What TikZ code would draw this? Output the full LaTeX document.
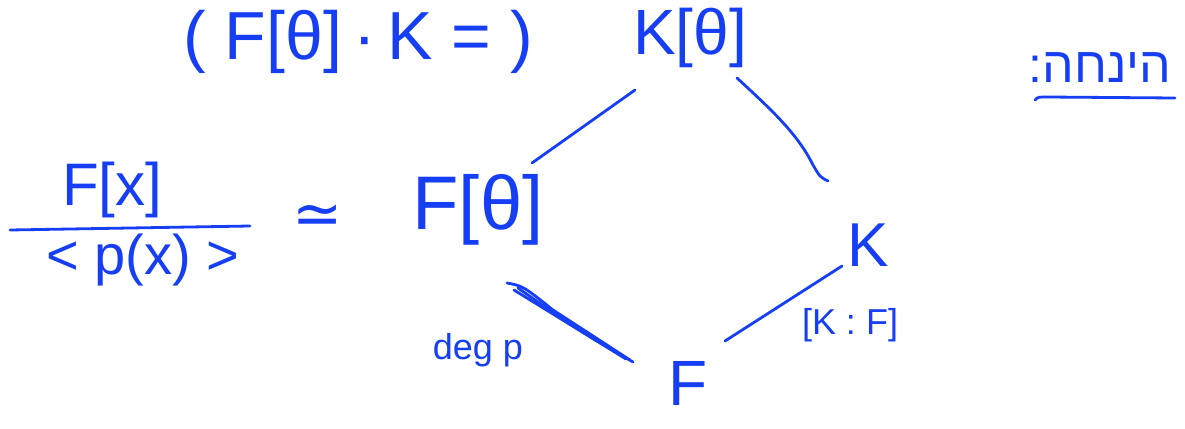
\documentclass[tikz,border=0pt]{standalone}
\usepackage{fontspec}
\setmainfont{Liberation Sans}
\newfontfamily\hebfont[Script=Hebrew]{Liberation Sans}
\newfontfamily\symfont{DejaVu Sans}
\TeXXeTstate=1
\definecolor{handblue}{RGB}{22,62,245}
\begin{document}
\begin{tikzpicture}[x=1pt,y=-1pt,
  hand/.style={text=handblue,inner sep=0pt},
  stroke/.style={draw=handblue,line width=2.8pt,line cap=round,line join=round}]
\useasboundingbox[fill=white] (0,0) rectangle (1185,428);
% nodes
\node[hand,font=\fontsize{68}{72}\selectfont] (top) at (358,42) {( F[θ]\,·\,K = )};
\node[hand,font=\fontsize{64}{68}\selectfont] (kt) at (690,38) {K[θ]};
\node[hand,font=\fontsize{50}{54}\selectfont\hebfont] (heb) at (1100,68) {\beginR הינחה:\endR};
\node[hand,font=\fontsize{60}{64}\selectfont] (fx) at (112,190) {F[x]};
\node[hand,font=\fontsize{56}{60}\selectfont] (den) at (143,260) {< p(x) >};
\node[hand,font=\fontsize{60}{64}\selectfont\symfont] (sim) at (318,220) {≃};
\node[hand,font=\fontsize{76}{80}\selectfont] (ft) at (478,210) {F[θ]};
\node[hand,font=\fontsize{62}{66}\selectfont] (k) at (868,245) {K};
\node[hand,font=\fontsize{64}{68}\selectfont] (f) at (688,383) {F};
\node[hand,font=\fontsize{36}{40}\selectfont] (deg) at (478,350) {deg p};
\node[hand,font=\fontsize{36}{40}\selectfont] (kf) at (850,325) {[K : F]};
% fraction bar and underline
\coordinate (fl1) at (10,230);
\coordinate (fl2) at (250,226);
\draw[stroke] (fl1) -- (fl2);
\coordinate (ul1) at (1035,100);
\coordinate (ul2) at (1175,98);
\draw[stroke] (ul1) .. controls ([shift={(3,-3)}]ul1) .. ([shift={(12,-3)}]ul1) -- (ul2);
% connectors
\draw[stroke] ([shift={(-55,52)}]kt.center) -- ([shift={(54,-47)}]ft.center);
\draw[stroke] ([shift={(47,40)}]kt.center) .. controls ([shift={(85,75)}]kt.center) and ([shift={(-70,-110)}]k.center) .. ([shift={(-55,-80)}]k.center) .. controls ([shift={(-48,-68)}]k.center) .. ([shift={(-40,-64)}]k.center);
\draw[stroke] ([shift={(29,73)}]ft.center) .. controls ([shift={(45,76)}]ft.center) .. ([shift={(75,100)}]ft.center) -- ([shift={(-58,-23)}]f.center);
\draw[stroke] ([shift={(36,80)}]ft.center) -- ([shift={(-62,-24)}]f.center);
\draw[stroke] ([shift={(40,78)}]ft.center) .. controls ([shift={(100,120)}]ft.center) .. ([shift={(-55,-21)}]f.center);
\draw[stroke] ([shift={(-26,21)}]k.center) -- ([shift={(37,-42)}]f.center);
\end{tikzpicture}
\end{document}
